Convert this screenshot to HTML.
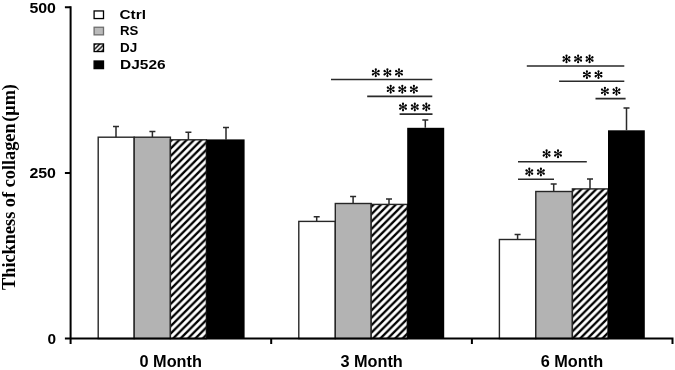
<!DOCTYPE html>
<html><head><meta charset="utf-8"><style>
html,body{margin:0;padding:0;background:#fff;}
body{width:675px;height:370px;overflow:hidden;}
svg{display:block;}
#w{width:675px;height:370px;will-change:transform;}
</style></head><body>
<div id="w"><svg width="675" height="370" viewBox="0 0 675 370">
<defs>
<pattern id="hatch" patternUnits="userSpaceOnUse" width="7.4" height="7.4" y="1">
<rect width="7.4" height="7.4" fill="#fff"/>
<path d="M-1.85,1.85 L1.85,-1.85 M0,7.4 L7.4,0 M5.550000000000001,9.25 L9.25,5.550000000000001" stroke="#000" stroke-width="2.3"/>
</pattern>
<pattern id="hatch2" patternUnits="userSpaceOnUse" width="4.6" height="4.6" x="95.2" y="44">
<rect width="4.6" height="4.6" fill="#fff"/>
<path d="M-1.15,1.15 L1.15,-1.15 M0,4.6 L4.6,0 M3.4499999999999997,5.75 L5.75,3.4499999999999997" stroke="#000" stroke-width="1.45"/>
</pattern>
<g id="ast" fill="#000">
<g id="pet"><circle cx="0" cy="-3.35" r="1.1"/><path d="M-0.35,-0.5 L0.35,-0.5 L0.8,-3.1 L-0.8,-3.1 Z"/></g>
<use href="#pet" transform="rotate(60)"/><use href="#pet" transform="rotate(120)"/><use href="#pet" transform="rotate(180)"/><use href="#pet" transform="rotate(240)"/><use href="#pet" transform="rotate(300)"/>
<circle r="1.1"/>
</g>
</defs>

<!-- Y axis title -->
<text transform="translate(14.6,187) rotate(-90)" text-anchor="middle" font-family="Liberation Serif" font-weight="bold" font-size="18.3">Thickness of collagen<tspan dx="1.6">(μm)</tspan></text>

<!-- Y tick labels -->
<g font-family="Liberation Sans" font-weight="bold" font-size="15.4" text-anchor="end">
<text x="56" y="12.9" textLength="26.6" lengthAdjust="spacingAndGlyphs">500</text>
<text x="56" y="178.2" textLength="26.6" lengthAdjust="spacingAndGlyphs">250</text>
<text x="56" y="344.2">0</text>
</g>

<!-- Bars -->
<g stroke="#262626" stroke-width="1.4">
<!-- group 1 -->
<rect x="98.2" y="137.2" width="36" height="201.4" fill="#fff"/>
<rect x="134.2" y="137.2" width="36.2" height="201.4" fill="#b3b3b3"/>
<rect x="170.4" y="139.8" width="36" height="198.8" fill="url(#hatch)"/>
<rect x="206.4" y="139.4" width="38.2" height="199.2" fill="#000" stroke="none"/>
<!-- group 2 -->
<rect x="298.8" y="221.4" width="36.5" height="117.2" fill="#fff"/>
<rect x="335.3" y="203.5" width="35.9" height="135.1" fill="#b3b3b3"/>
<rect x="371.2" y="204.4" width="36.1" height="134.2" fill="url(#hatch)"/>
<rect x="407.2" y="127.8" width="37" height="210.8" fill="#000" stroke="none"/>
<!-- group 3 -->
<rect x="499.4" y="239.5" width="36.4" height="99.1" fill="#fff"/>
<rect x="535.8" y="191.5" width="36.6" height="147.1" fill="#b3b3b3"/>
<rect x="572.4" y="188.9" width="35.6" height="149.7" fill="url(#hatch)"/>
<rect x="608" y="130.3" width="36.8" height="208.3" fill="#000" stroke="none"/>
</g>

<!-- Error bars -->
<g stroke="#2a2a2a" stroke-width="1.5" fill="none">
<path d="M116,137.2V126.5 M113,126.5H119"/>
<path d="M152.4,136.9V131.5 M149.4,131.5H155.4"/>
<path d="M188.4,139.8V132.3 M185.4,132.3H191.4"/>
<path d="M226,139.8V127.5 M223,127.5H229"/>
<path d="M316.7,221.4V216.8 M313.7,216.8H319.7"/>
<path d="M353.1,203.5V196.5 M350.1,196.5H356.1"/>
<path d="M389,204.4V199 M386,199H392"/>
<path d="M425.3,127.8V120.1 M422.3,120.1H428.3"/>
<path d="M517.6,239.5V234.6 M514.6,234.6H520.6"/>
<path d="M553.7,191.5V183.9 M550.7,183.9H556.7"/>
<path d="M590,188.9V179 M587,179H593"/>
<path d="M626.5,130.3V108.1 M623.5,108.1H629.5"/>
</g>

<!-- Axes -->
<g stroke="#000" stroke-width="2" fill="none">
<path d="M70.6,6.25V344"/>
<path d="M64.9,7.25H70.6 M64.9,173H70.6"/>
<path d="M64.9,338.5H672.5V344 M271.2,338.5V344 M471.9,338.5V344"/>
</g>

<!-- Significance lines -->
<g stroke="#2a2a2a" stroke-width="1.6" fill="none">
<path d="M331,79.5H432.3 M367.2,96.4H432.3 M399.6,114.1H432.5"/>
<path d="M526.8,66H624.3 M559.1,81.3H624.3 M595.5,98.6H625.6"/>
<path d="M518,161.8H586.8 M518,179.2H554"/>
</g>

<!-- Asterisks -->
<g>
<use href="#ast" x="375.8" y="72.7"/><use href="#ast" x="387.4" y="72.7"/><use href="#ast" x="399.0" y="72.7"/>
<use href="#ast" x="390.7" y="89.2"/><use href="#ast" x="402.3" y="89.2"/><use href="#ast" x="413.9" y="89.2"/>
<use href="#ast" x="403.0" y="107"/><use href="#ast" x="414.8" y="107"/><use href="#ast" x="426.3" y="107"/>
<use href="#ast" x="566.5" y="58.9"/><use href="#ast" x="578.1" y="58.9"/><use href="#ast" x="589.6" y="58.9"/>
<use href="#ast" x="586.9" y="74.6"/><use href="#ast" x="598.5" y="74.6"/>
<use href="#ast" x="604.9" y="91.2"/><use href="#ast" x="616.5" y="91.2"/>
<use href="#ast" x="546.6" y="153.8"/><use href="#ast" x="558.0" y="153.8"/>
<use href="#ast" x="529.3" y="172"/><use href="#ast" x="540.9" y="172"/>
</g>

<!-- Legend -->
<g stroke-width="1.3">
<rect x="94.1" y="10.95" width="9.4" height="7.6" fill="#fff" stroke="#000"/>
<rect x="94.1" y="27.25" width="9.4" height="7.6" fill="#bababa" stroke="#6e6e6e"/>
<rect x="94.1" y="43.95" width="9.4" height="7.6" fill="url(#hatch2)" stroke="#000"/>
<rect x="94.1" y="61" width="9.4" height="7.6" fill="#000" stroke="#000"/>
</g>
<g font-family="Liberation Sans" font-weight="bold" font-size="13.3">
<text x="119.5" y="19.2" textLength="26.5" lengthAdjust="spacingAndGlyphs">Ctrl</text>
<text x="120" y="35.3" textLength="18.4" lengthAdjust="spacingAndGlyphs">RS</text>
<text x="120" y="52" textLength="17.2" lengthAdjust="spacingAndGlyphs">DJ</text>
<text x="120" y="68.6" textLength="45.6" lengthAdjust="spacingAndGlyphs">DJ526</text>
</g>

<!-- X labels -->
<g font-family="Liberation Sans" font-weight="bold" font-size="16.3" text-anchor="middle">
<text x="170.7" y="367.2">0 Month</text>
<text x="371.6" y="367.2">3 Month</text>
<text x="571.9" y="367.2">6 Month</text>
</g>
</svg></div>
</body></html>
